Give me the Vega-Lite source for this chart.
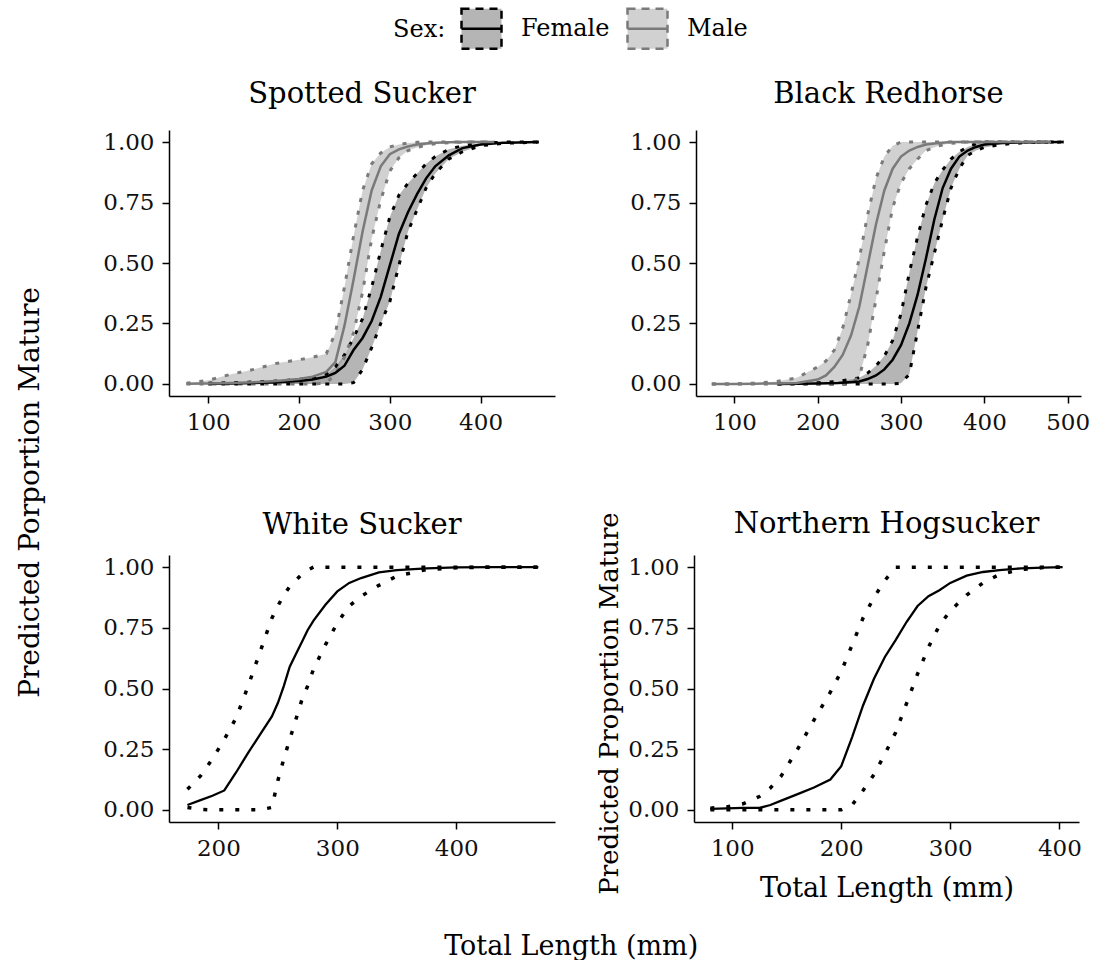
{
  "$schema": "https://vega.github.io/schema/vega-lite/v6.json",
  "background": "white",
  "padding": {"left": 16, "top": 7, "right": 5, "bottom": 0},
  "datasets": {
    "ss": [
      {"sex": "Female", "len": 100, "fit": 0.001, "lo": 0, "hi": 0.003},
      {"sex": "Female", "len": 125, "fit": 0.002, "lo": 0, "hi": 0.005},
      {"sex": "Female", "len": 150, "fit": 0.004, "lo": 0, "hi": 0.008},
      {"sex": "Female", "len": 175, "fit": 0.007, "lo": 0, "hi": 0.012},
      {"sex": "Female", "len": 200, "fit": 0.012, "lo": 0, "hi": 0.018},
      {"sex": "Female", "len": 215, "fit": 0.018, "lo": 0, "hi": 0.025},
      {"sex": "Female", "len": 230, "fit": 0.03, "lo": 0, "hi": 0.04},
      {"sex": "Female", "len": 240, "fit": 0.045, "lo": 0, "hi": 0.07},
      {"sex": "Female", "len": 250, "fit": 0.075, "lo": 0, "hi": 0.12},
      {"sex": "Female", "len": 260, "fit": 0.14, "lo": 0.005, "hi": 0.19},
      {"sex": "Female", "len": 270, "fit": 0.19, "lo": 0.06, "hi": 0.27},
      {"sex": "Female", "len": 280, "fit": 0.26, "lo": 0.15, "hi": 0.4},
      {"sex": "Female", "len": 290, "fit": 0.36, "lo": 0.25, "hi": 0.55},
      {"sex": "Female", "len": 300, "fit": 0.49, "lo": 0.34, "hi": 0.69},
      {"sex": "Female", "len": 310, "fit": 0.62, "lo": 0.49, "hi": 0.78},
      {"sex": "Female", "len": 320, "fit": 0.71, "lo": 0.63, "hi": 0.83},
      {"sex": "Female", "len": 330, "fit": 0.785, "lo": 0.72, "hi": 0.87},
      {"sex": "Female", "len": 340, "fit": 0.85, "lo": 0.81, "hi": 0.91},
      {"sex": "Female", "len": 350, "fit": 0.9, "lo": 0.87, "hi": 0.94},
      {"sex": "Female", "len": 365, "fit": 0.945, "lo": 0.93, "hi": 0.97},
      {"sex": "Female", "len": 380, "fit": 0.975, "lo": 0.96, "hi": 0.985},
      {"sex": "Female", "len": 400, "fit": 0.99, "lo": 0.985, "hi": 0.995},
      {"sex": "Female", "len": 425, "fit": 0.997, "lo": 0.995, "hi": 1},
      {"sex": "Female", "len": 464, "fit": 1, "lo": 1, "hi": 1},
      {"sex": "Male", "len": 76, "fit": 0.001, "lo": 0, "hi": 0.003},
      {"sex": "Male", "len": 100, "fit": 0.002, "lo": 0, "hi": 0.015},
      {"sex": "Male", "len": 125, "fit": 0.004, "lo": 0, "hi": 0.04},
      {"sex": "Male", "len": 150, "fit": 0.007, "lo": 0, "hi": 0.06},
      {"sex": "Male", "len": 175, "fit": 0.012, "lo": 0, "hi": 0.085},
      {"sex": "Male", "len": 200, "fit": 0.02, "lo": 0, "hi": 0.1},
      {"sex": "Male", "len": 215, "fit": 0.03, "lo": 0, "hi": 0.11},
      {"sex": "Male", "len": 230, "fit": 0.05, "lo": 0.003, "hi": 0.125},
      {"sex": "Male", "len": 240, "fit": 0.09, "lo": 0.04, "hi": 0.21},
      {"sex": "Male", "len": 250, "fit": 0.24, "lo": 0.11, "hi": 0.4},
      {"sex": "Male", "len": 260, "fit": 0.43, "lo": 0.21, "hi": 0.61},
      {"sex": "Male", "len": 270, "fit": 0.63, "lo": 0.38, "hi": 0.8},
      {"sex": "Male", "len": 280, "fit": 0.8, "lo": 0.6, "hi": 0.91},
      {"sex": "Male", "len": 290, "fit": 0.9, "lo": 0.76, "hi": 0.955},
      {"sex": "Male", "len": 300, "fit": 0.95, "lo": 0.88, "hi": 0.98},
      {"sex": "Male", "len": 310, "fit": 0.97, "lo": 0.935, "hi": 0.99},
      {"sex": "Male", "len": 320, "fit": 0.982, "lo": 0.965, "hi": 0.996},
      {"sex": "Male", "len": 330, "fit": 0.99, "lo": 0.978, "hi": 0.999},
      {"sex": "Male", "len": 340, "fit": 0.994, "lo": 0.987, "hi": 1},
      {"sex": "Male", "len": 350, "fit": 0.997, "lo": 0.993, "hi": 1},
      {"sex": "Male", "len": 365, "fit": 0.999, "lo": 0.997, "hi": 1},
      {"sex": "Male", "len": 380, "fit": 1, "lo": 1, "hi": 1},
      {"sex": "Male", "len": 415, "fit": 1, "lo": 1, "hi": 1}
    ],
    "br": [
      {"sex": "Female", "len": 152, "fit": 0, "lo": 0, "hi": 0},
      {"sex": "Female", "len": 175, "fit": 0.001, "lo": 0, "hi": 0.002},
      {"sex": "Female", "len": 200, "fit": 0.002, "lo": 0, "hi": 0.005},
      {"sex": "Female", "len": 225, "fit": 0.004, "lo": 0, "hi": 0.01},
      {"sex": "Female", "len": 250, "fit": 0.01, "lo": 0, "hi": 0.025},
      {"sex": "Female", "len": 260, "fit": 0.02, "lo": 0, "hi": 0.045},
      {"sex": "Female", "len": 270, "fit": 0.035, "lo": 0, "hi": 0.075},
      {"sex": "Female", "len": 280, "fit": 0.06, "lo": 0, "hi": 0.115},
      {"sex": "Female", "len": 290, "fit": 0.1, "lo": 0, "hi": 0.18},
      {"sex": "Female", "len": 300, "fit": 0.16, "lo": 0.003, "hi": 0.29},
      {"sex": "Female", "len": 310, "fit": 0.25, "lo": 0.04, "hi": 0.46},
      {"sex": "Female", "len": 320, "fit": 0.37, "lo": 0.22, "hi": 0.61},
      {"sex": "Female", "len": 330, "fit": 0.52, "lo": 0.4, "hi": 0.74},
      {"sex": "Female", "len": 340, "fit": 0.68, "lo": 0.54, "hi": 0.83},
      {"sex": "Female", "len": 350, "fit": 0.81, "lo": 0.68, "hi": 0.885},
      {"sex": "Female", "len": 360, "fit": 0.89, "lo": 0.81, "hi": 0.93},
      {"sex": "Female", "len": 370, "fit": 0.94, "lo": 0.89, "hi": 0.96},
      {"sex": "Female", "len": 380, "fit": 0.965, "lo": 0.945, "hi": 0.98},
      {"sex": "Female", "len": 390, "fit": 0.98, "lo": 0.965, "hi": 0.993},
      {"sex": "Female", "len": 400, "fit": 0.99, "lo": 0.978, "hi": 1},
      {"sex": "Female", "len": 420, "fit": 0.996, "lo": 0.99, "hi": 1},
      {"sex": "Female", "len": 450, "fit": 0.999, "lo": 0.998, "hi": 1},
      {"sex": "Female", "len": 495, "fit": 1, "lo": 1, "hi": 1},
      {"sex": "Male", "len": 73, "fit": 0, "lo": 0, "hi": 0},
      {"sex": "Male", "len": 100, "fit": 0, "lo": 0, "hi": 0},
      {"sex": "Male", "len": 125, "fit": 0.001, "lo": 0, "hi": 0.003},
      {"sex": "Male", "len": 151, "fit": 0.002, "lo": 0, "hi": 0.01},
      {"sex": "Male", "len": 175, "fit": 0.004, "lo": 0, "hi": 0.025},
      {"sex": "Male", "len": 200, "fit": 0.018, "lo": 0, "hi": 0.07},
      {"sex": "Male", "len": 210, "fit": 0.035, "lo": 0, "hi": 0.095},
      {"sex": "Male", "len": 220, "fit": 0.07, "lo": 0, "hi": 0.14},
      {"sex": "Male", "len": 230, "fit": 0.12, "lo": 0, "hi": 0.23},
      {"sex": "Male", "len": 240, "fit": 0.2, "lo": 0.003, "hi": 0.37},
      {"sex": "Male", "len": 250, "fit": 0.32, "lo": 0.03, "hi": 0.52},
      {"sex": "Male", "len": 260, "fit": 0.49, "lo": 0.16, "hi": 0.7},
      {"sex": "Male", "len": 270, "fit": 0.66, "lo": 0.35, "hi": 0.85},
      {"sex": "Male", "len": 280, "fit": 0.8, "lo": 0.55, "hi": 0.94},
      {"sex": "Male", "len": 290, "fit": 0.89, "lo": 0.73, "hi": 0.985},
      {"sex": "Male", "len": 300, "fit": 0.94, "lo": 0.83, "hi": 1},
      {"sex": "Male", "len": 310, "fit": 0.965, "lo": 0.89, "hi": 1},
      {"sex": "Male", "len": 320, "fit": 0.98, "lo": 0.93, "hi": 1},
      {"sex": "Male", "len": 330, "fit": 0.99, "lo": 0.965, "hi": 1},
      {"sex": "Male", "len": 345, "fit": 0.996, "lo": 0.985, "hi": 1},
      {"sex": "Male", "len": 360, "fit": 1, "lo": 0.995, "hi": 1},
      {"sex": "Male", "len": 380, "fit": 1, "lo": 1, "hi": 1},
      {"sex": "Male", "len": 480, "fit": 1, "lo": 1, "hi": 1}
    ],
    "ws": [
      {"len": 174, "fit": 0.02, "lo": 0.01, "hi": 0.085},
      {"len": 185, "fit": 0.04, "lo": 0.002, "hi": 0.14},
      {"len": 195, "fit": 0.058, "lo": 0, "hi": 0.21},
      {"len": 205, "fit": 0.08, "lo": 0, "hi": 0.29},
      {"len": 215, "fit": 0.155, "lo": 0, "hi": 0.38},
      {"len": 225, "fit": 0.235, "lo": 0, "hi": 0.51},
      {"len": 235, "fit": 0.31, "lo": 0, "hi": 0.65},
      {"len": 245, "fit": 0.385, "lo": 0.01, "hi": 0.79},
      {"len": 250, "fit": 0.44, "lo": 0.12, "hi": 0.84},
      {"len": 255, "fit": 0.51, "lo": 0.21, "hi": 0.885},
      {"len": 260, "fit": 0.59, "lo": 0.29, "hi": 0.92},
      {"len": 265, "fit": 0.64, "lo": 0.37, "hi": 0.945},
      {"len": 270, "fit": 0.69, "lo": 0.45, "hi": 0.97},
      {"len": 275, "fit": 0.74, "lo": 0.51, "hi": 0.988},
      {"len": 280, "fit": 0.78, "lo": 0.58, "hi": 1},
      {"len": 290, "fit": 0.845, "lo": 0.68, "hi": 1},
      {"len": 300, "fit": 0.9, "lo": 0.77, "hi": 1},
      {"len": 310, "fit": 0.935, "lo": 0.84, "hi": 1},
      {"len": 320, "fit": 0.955, "lo": 0.88, "hi": 1},
      {"len": 335, "fit": 0.978, "lo": 0.925, "hi": 1},
      {"len": 350, "fit": 0.988, "lo": 0.963, "hi": 1},
      {"len": 375, "fit": 0.995, "lo": 0.99, "hi": 1},
      {"len": 400, "fit": 0.999, "lo": 0.997, "hi": 1},
      {"len": 430, "fit": 1, "lo": 1, "hi": 1},
      {"len": 469, "fit": 1, "lo": 1, "hi": 1}
    ],
    "nh": [
      {"len": 80, "fit": 0.004, "lo": 0, "hi": 0.007},
      {"len": 95, "fit": 0.006, "lo": 0, "hi": 0.012},
      {"len": 110, "fit": 0.008, "lo": 0, "hi": 0.025},
      {"len": 125, "fit": 0.008, "lo": 0, "hi": 0.055},
      {"len": 135, "fit": 0.02, "lo": 0, "hi": 0.09},
      {"len": 145, "fit": 0.038, "lo": 0, "hi": 0.14},
      {"len": 160, "fit": 0.065, "lo": 0, "hi": 0.25},
      {"len": 175, "fit": 0.092, "lo": 0, "hi": 0.37},
      {"len": 190, "fit": 0.125, "lo": 0, "hi": 0.485},
      {"len": 200, "fit": 0.18, "lo": 0, "hi": 0.57},
      {"len": 210, "fit": 0.3, "lo": 0.02, "hi": 0.68},
      {"len": 220, "fit": 0.43, "lo": 0.08, "hi": 0.79},
      {"len": 230, "fit": 0.54, "lo": 0.145, "hi": 0.875},
      {"len": 240, "fit": 0.63, "lo": 0.23, "hi": 0.945},
      {"len": 250, "fit": 0.7, "lo": 0.32, "hi": 1},
      {"len": 260, "fit": 0.775, "lo": 0.44, "hi": 1},
      {"len": 270, "fit": 0.84, "lo": 0.56, "hi": 1},
      {"len": 280, "fit": 0.88, "lo": 0.67, "hi": 1},
      {"len": 290, "fit": 0.905, "lo": 0.76, "hi": 1},
      {"len": 300, "fit": 0.935, "lo": 0.82, "hi": 1},
      {"len": 315, "fit": 0.965, "lo": 0.885, "hi": 1},
      {"len": 330, "fit": 0.98, "lo": 0.935, "hi": 1},
      {"len": 345, "fit": 0.988, "lo": 0.97, "hi": 1},
      {"len": 365, "fit": 0.995, "lo": 0.99, "hi": 1},
      {"len": 385, "fit": 0.998, "lo": 0.998, "hi": 1},
      {"len": 403, "fit": 1, "lo": 1, "hi": 1}
    ]
  },
  "title": {"text": "Predicted Porportion Mature", "orient": "left", "anchor": "middle", "fontSize": 28, "offset": 58, "dx": -9},
  "vconcat": [
    {
      "title": {"text": "Total Length (mm)", "orient": "bottom", "anchor": "middle", "fontSize": 27, "offset": 33, "dx": -25},
      "spacing": 75,
      "vconcat": [
        {
          "spacing": 74,
          "hconcat": [
            {
              "title": {"text": "Spotted Sucker", "offset": 21, "frame": "group"},
              "width": 386, "height": 266,
              "data": {"name": "ss"},
              "encoding": {"x": {"field": "len", "type": "quantitative", "scale": {"domain": [56.7, 482], "nice": false, "zero": false}, "axis": {"values": [100, 200, 300, 400], "title": null}}},
              "layer": [
                {"mark": {"type": "area", "fillOpacity": 0.45, "strokeOpacity": 0, "strokeWidth": 0},
                 "encoding": {
                   "y": {"field": "lo", "type": "quantitative", "stack": null, "scale": {"domain": [-0.05, 1.05], "nice": false, "zero": false}, "axis": {"values": [0, 0.25, 0.5, 0.75, 1], "format": ".2f", "title": null}},
                   "y2": {"field": "hi"},
                   "fill": {"field": "sex", "type": "nominal", "scale": {"domain": ["Female", "Male"], "range": ["#5c5c5c", "#999999"]},
                     "legend": {"title": "Sex:", "orient": "none", "legendX": 224, "legendY": -123, "direction": "horizontal", "titleOrient": "left", "symbolType": "M-1,-1H1V1H-1Z M-1,0H-0.7 M-0.7,0H-0.4 M-0.4,0H-0.1 M-0.1,0H0.2 M0.2,0H0.5 M0.5,0H0.8 M0.8,0H1", "symbolSize": 1600, "symbolStrokeWidth": 2.5, "symbolDash": [8, 6], "labelOffset": 18, "columnPadding": 12, "titlePadding": 14,
                       "encode": {"symbols": {"update": {"fillOpacity": {"value": 0.45}, "strokeOpacity": {"value": 1}, "strokeWidth": {"value": 2.5}, "strokeDash": {"value": [8, 6]}}}}}},
                   "stroke": {"field": "sex", "type": "nominal", "scale": {"domain": ["Female", "Male"], "range": ["#000000", "#7a7a7a"]},
                     "legend": {"title": "Sex:", "orient": "none", "legendX": 224, "legendY": -123, "direction": "horizontal", "titleOrient": "left", "symbolType": "M-1,-1H1V1H-1Z M-1,0H-0.7 M-0.7,0H-0.4 M-0.4,0H-0.1 M-0.1,0H0.2 M0.2,0H0.5 M0.5,0H0.8 M0.8,0H1", "symbolSize": 1600, "symbolStrokeWidth": 2.5, "symbolDash": [8, 6], "labelOffset": 18, "columnPadding": 12, "titlePadding": 14,
                       "encode": {"symbols": {"update": {"fillOpacity": {"value": 0.45}, "strokeOpacity": {"value": 1}, "strokeWidth": {"value": 2.5}, "strokeDash": {"value": [8, 6]}}}}}}
                 }},
                {"mark": {"type": "line", "strokeDash": [4, 9], "strokeWidth": 3, "strokeCap": "butt"},
                 "encoding": {
                   "y": {"field": "hi", "type": "quantitative", "scale": {"domain": [-0.05, 1.05], "nice": false, "zero": false}, "axis": {"values": [0, 0.25, 0.5, 0.75, 1], "format": ".2f", "title": null}},
                   "stroke": {"field": "sex", "type": "nominal", "legend": null}
                 }},
                {"mark": {"type": "line", "strokeDash": [4, 9], "strokeWidth": 3, "strokeCap": "butt"},
                 "encoding": {
                   "y": {"field": "lo", "type": "quantitative", "scale": {"domain": [-0.05, 1.05], "nice": false, "zero": false}, "axis": {"values": [0, 0.25, 0.5, 0.75, 1], "format": ".2f", "title": null}},
                   "stroke": {"field": "sex", "type": "nominal", "legend": null}
                 }},
                {"mark": {"type": "line", "strokeWidth": 2.5},
                 "encoding": {
                   "y": {"field": "fit", "type": "quantitative", "scale": {"domain": [-0.05, 1.05], "nice": false, "zero": false}, "axis": {"values": [0, 0.25, 0.5, 0.75, 1], "format": ".2f", "title": null}},
                   "stroke": {"field": "sex", "type": "nominal", "legend": null}
                 }}
              ]
            },
            {
              "title": {"text": "Black Redhorse", "offset": 21, "frame": "group"},
              "width": 385, "height": 266,
              "data": {"name": "br"},
              "encoding": {"x": {"field": "len", "type": "quantitative", "scale": {"domain": [54, 516], "nice": false, "zero": false}, "axis": {"values": [100, 200, 300, 400, 500], "title": null}}},
              "layer": [
                {"mark": {"type": "area", "fillOpacity": 0.45, "strokeOpacity": 0, "strokeWidth": 0},
                 "encoding": {
                   "y": {"field": "lo", "type": "quantitative", "stack": null, "scale": {"domain": [-0.05, 1.05], "nice": false, "zero": false}, "axis": {"values": [0, 0.25, 0.5, 0.75, 1], "format": ".2f", "title": null}},
                   "y2": {"field": "hi"},
                   "fill": {"field": "sex", "type": "nominal", "scale": {"domain": ["Female", "Male"], "range": ["#5c5c5c", "#999999"]},
                     "legend": {"title": "Sex:", "orient": "none", "legendX": 224, "legendY": -123, "direction": "horizontal", "titleOrient": "left", "symbolType": "M-1,-1H1V1H-1Z M-1,0H-0.7 M-0.7,0H-0.4 M-0.4,0H-0.1 M-0.1,0H0.2 M0.2,0H0.5 M0.5,0H0.8 M0.8,0H1", "symbolSize": 1600, "symbolStrokeWidth": 2.5, "symbolDash": [8, 6], "labelOffset": 18, "columnPadding": 12, "titlePadding": 14,
                       "encode": {"symbols": {"update": {"fillOpacity": {"value": 0.45}, "strokeOpacity": {"value": 1}, "strokeWidth": {"value": 2.5}, "strokeDash": {"value": [8, 6]}}}}}},
                   "stroke": {"field": "sex", "type": "nominal", "scale": {"domain": ["Female", "Male"], "range": ["#000000", "#7a7a7a"]},
                     "legend": {"title": "Sex:", "orient": "none", "legendX": 224, "legendY": -123, "direction": "horizontal", "titleOrient": "left", "symbolType": "M-1,-1H1V1H-1Z M-1,0H-0.7 M-0.7,0H-0.4 M-0.4,0H-0.1 M-0.1,0H0.2 M0.2,0H0.5 M0.5,0H0.8 M0.8,0H1", "symbolSize": 1600, "symbolStrokeWidth": 2.5, "symbolDash": [8, 6], "labelOffset": 18, "columnPadding": 12, "titlePadding": 14,
                       "encode": {"symbols": {"update": {"fillOpacity": {"value": 0.45}, "strokeOpacity": {"value": 1}, "strokeWidth": {"value": 2.5}, "strokeDash": {"value": [8, 6]}}}}}}
                 }},
                {"mark": {"type": "line", "strokeDash": [4, 9], "strokeWidth": 3, "strokeCap": "butt"},
                 "encoding": {
                   "y": {"field": "hi", "type": "quantitative", "scale": {"domain": [-0.05, 1.05], "nice": false, "zero": false}, "axis": {"values": [0, 0.25, 0.5, 0.75, 1], "format": ".2f", "title": null}},
                   "stroke": {"field": "sex", "type": "nominal", "legend": null}
                 }},
                {"mark": {"type": "line", "strokeDash": [4, 9], "strokeWidth": 3, "strokeCap": "butt"},
                 "encoding": {
                   "y": {"field": "lo", "type": "quantitative", "scale": {"domain": [-0.05, 1.05], "nice": false, "zero": false}, "axis": {"values": [0, 0.25, 0.5, 0.75, 1], "format": ".2f", "title": null}},
                   "stroke": {"field": "sex", "type": "nominal", "legend": null}
                 }},
                {"mark": {"type": "line", "strokeWidth": 2.5},
                 "encoding": {
                   "y": {"field": "fit", "type": "quantitative", "scale": {"domain": [-0.05, 1.05], "nice": false, "zero": false}, "axis": {"values": [0, 0.25, 0.5, 0.75, 1], "format": ".2f", "title": null}},
                   "stroke": {"field": "sex", "type": "nominal", "legend": null}
                 }}
              ]
            }
          ]
        },
        {
          "spacing": 41,
          "hconcat": [
            {
              "title": {"text": "White Sucker", "offset": 15, "frame": "group"},
              "width": 386, "height": 267,
              "data": {"name": "ws"},
              "encoding": {"x": {"field": "len", "type": "quantitative", "scale": {"domain": [158.5, 483], "nice": false, "zero": false}, "axis": {"values": [200, 300, 400], "title": null}}},
              "layer": [
                {"mark": {"type": "line", "strokeDash": [4, 12], "strokeWidth": 3.5, "color": "#000000", "strokeCap": "butt"},
                 "encoding": {"y": {"field": "hi", "type": "quantitative", "scale": {"domain": [-0.05, 1.05], "nice": false, "zero": false}, "axis": {"values": [0, 0.25, 0.5, 0.75, 1], "format": ".2f", "title": null}}}},
                {"mark": {"type": "line", "strokeDash": [4, 12], "strokeWidth": 3.5, "color": "#000000", "strokeCap": "butt"},
                 "encoding": {"y": {"field": "lo", "type": "quantitative", "scale": {"domain": [-0.05, 1.05], "nice": false, "zero": false}, "axis": {"values": [0, 0.25, 0.5, 0.75, 1], "format": ".2f", "title": null}}}},
                {"mark": {"type": "line", "strokeWidth": 2.3, "color": "#000000"},
                 "encoding": {"y": {"field": "fit", "type": "quantitative", "scale": {"domain": [-0.05, 1.05], "nice": false, "zero": false}, "axis": {"values": [0, 0.25, 0.5, 0.75, 1], "format": ".2f", "title": null}}}}
              ]
            },
            {
              "title": {"text": "Northern Hogsucker", "offset": -27, "frame": "group"},
              "width": 385, "height": 267,
              "data": {"name": "nh"},
              "encoding": {"x": {"field": "len", "type": "quantitative", "scale": {"domain": [65, 418], "nice": false, "zero": false}, "axis": {"values": [100, 200, 300, 400], "title": "Total Length (mm)", "titlePadding": 15}}},
              "layer": [
                {"mark": {"type": "line", "strokeDash": [4, 12], "strokeWidth": 3.5, "color": "#000000", "strokeCap": "butt"},
                 "encoding": {"y": {"field": "hi", "type": "quantitative", "scale": {"domain": [-0.05, 1.05], "nice": false, "zero": false}, "axis": {"values": [0, 0.25, 0.5, 0.75, 1], "format": ".2f", "title": "Predicted Proportion Mature", "titlePadding": 5, "titleFontSize": 26, "titleY": 148}}}},
                {"mark": {"type": "line", "strokeDash": [4, 12], "strokeWidth": 3.5, "color": "#000000", "strokeCap": "butt"},
                 "encoding": {"y": {"field": "lo", "type": "quantitative", "scale": {"domain": [-0.05, 1.05], "nice": false, "zero": false}, "axis": {"values": [0, 0.25, 0.5, 0.75, 1], "format": ".2f", "title": "Predicted Proportion Mature", "titlePadding": 5, "titleFontSize": 26, "titleY": 148}}}},
                {"mark": {"type": "line", "strokeWidth": 2.3, "color": "#000000"},
                 "encoding": {"y": {"field": "fit", "type": "quantitative", "scale": {"domain": [-0.05, 1.05], "nice": false, "zero": false}, "axis": {"values": [0, 0.25, 0.5, 0.75, 1], "format": ".2f", "title": "Predicted Proportion Mature", "titlePadding": 5, "titleFontSize": 26, "titleY": 148}}}}
              ]
            }
          ]
        }
      ]
    }
  ],
  "config": {
    "font": "DejaVu Serif",
    "view": {"stroke": null},
    "axis": {"grid": false, "domainColor": "#000000", "domainWidth": 1.5, "tickColor": "#000000", "tickWidth": 1.5, "tickSize": 7, "labelFont": "DejaVu Serif", "labelFontSize": 23, "labelColor": "#111111", "labelFlush": false, "labelOverlap": false, "titleFont": "DejaVu Serif", "titleFontSize": 27, "titleFontWeight": "normal", "titleColor": "#000000"},
    "axisX": {"labelPadding": 8},
    "axisY": {"labelPadding": 8},
    "title": {"font": "DejaVu Serif", "fontSize": 29, "fontWeight": "normal", "color": "#000000", "anchor": "middle"},
    "legend": {"titleFont": "DejaVu Serif", "titleFontSize": 24, "titleFontWeight": "normal", "titleColor": "#000000", "labelFont": "DejaVu Serif", "labelFontSize": 24, "labelColor": "#000000"}
  }
}
